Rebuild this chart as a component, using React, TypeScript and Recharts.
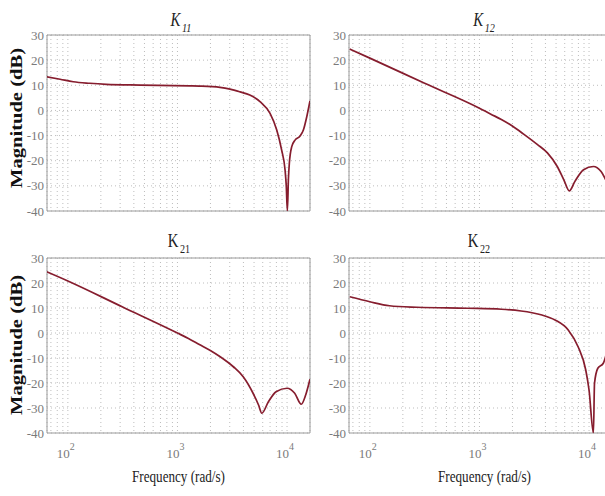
import React from "react";
import { LineChart, Line, XAxis, YAxis, CartesianGrid, ReferenceArea } from "recharts";

// frequency grid (rad/s) and magnitude ticks
const FREQ_MIN = 64.5;
const FREQ_MAX = 16200;
const FREQ_TICKS = [
  70, 80, 90, 100, 200, 300, 400, 500, 600, 700, 800, 900, 1000, 2000, 3000, 4000, 5000, 6000, 7000, 8000,
  9000, 10000,
];
const DB_TICKS = [-40, -30, -20, -10, 0, 10, 20, 30];

// K11
const k11Freq = [64, 85, 112, 158, 224, 457, 1288, 1585, 2443, 3020, 3715, 4571, 5662, 6998, 8054, 8933, 9594, 9840, 10070, 10300, 10495, 11041, 11830, 13152, 14093, 15136, 16200];
const k11Db = [13.4, 12.4, 11.4, 10.8, 10.4, 10.1, 9.8, 9.7, 9.2, 8.5, 7.4, 6.1, 3.5, -1.2, -7.8, -15.8, -23.7, -30, -40, -27, -21, -14.4, -11.8, -10.2, -7.8, -2.5, 3.8];

// K12
const k12Freq = [65.5, 100, 316, 1000, 1259, 1585, 1995, 2512, 3388, 4169, 5129, 5888, 6607, 7413, 8913, 10965, 12882, 14791, 16200];
const k12Db = [24.4, 20.8, 10.8, 0.9, -1.4, -3.6, -6.2, -9.3, -13.6, -16.9, -22.3, -27.6, -32, -28.3, -23.6, -22.3, -24.3, -28.9, -31];

// K21
const k21Freq = [64, 100, 316, 1000, 1259, 1585, 1995, 2455, 3236, 3981, 4898, 5495, 5888, 6761, 7943, 10000, 11749, 13490, 14791, 15849, 16200];
const k21Db = [24.5, 20.8, 10.4, 0, -2.2, -4.6, -7, -9.5, -13.5, -17.5, -24.1, -28.8, -32.1, -27.5, -23.5, -22.1, -24.1, -28.5, -24.8, -20.1, -18.5];

// K22
const k22Freq = [65.5, 100, 151, 269, 776, 1585, 2399, 3020, 3715, 4898, 6457, 7943, 9333, 10000, 10965, 11220, 12023, 13490, 14454, 16200];
const k22Db = [14.5, 12.5, 10.9, 10.3, 9.9, 9.5, 8.8, 8.1, 7.2, 5.2, 1.2, -5.5, -14.8, -22.8, -40, -20.1, -14.1, -12.1, -8.1, -1];

const SERIF = "'Liberation Serif', 'Times New Roman', serif";
const LINE = "#861d2e";
const GRAY_TEXT = "#7a7a7a";

function DecadeTick(props: any) {
  const { x, y, payload } = props;
  const exp = Math.round(Math.log10(payload.value));
  if (Math.abs(Math.pow(10, exp) - payload.value) > 1e-6) return <g />;
  return (
    <g fill={GRAY_TEXT} fontFamily={SERIF}>
      <text x={x + 2} y={y + 17} fontSize={13} textAnchor="end">10</text>
      <text x={x + 2} y={y + 9} fontSize={10}>{exp}</text>
    </g>
  );
}

function NoTick() {
  return <g />;
}

interface PanelProps {
  freq: number[];
  db: number[];
  left: number;
  top: number;
  plotH: number;
  showX: boolean;
}

function Panel({ freq, db, left, top, plotH, showX }: PanelProps) {
  const rows = freq.map((f, i) => ({ f, db: db[i] }));
  const xh = showX ? 35 : 14;
  return (
    <div style={{ position: "absolute", left, top }}>
      <LineChart width={320} height={35 + plotH + xh} data={rows} margin={{ top: 35, right: 10, bottom: 0, left: 0 }}>
        <CartesianGrid strokeDasharray="1 3" stroke="#bdbdbd" />
        <XAxis
          dataKey="f"
          type="number"
          scale="log"
          domain={[FREQ_MIN, FREQ_MAX]}
          allowDataOverflow
          ticks={FREQ_TICKS}
          interval={0}
          height={xh}
          tickLine={false}
          axisLine={false}
          tick={showX ? <DecadeTick /> : <NoTick />}
        />
        <YAxis
          type="number"
          domain={[-40, 30]}
          allowDataOverflow
          ticks={DB_TICKS}
          interval={0}
          width={47}
          tickLine={false}
          axisLine={false}
          tickSize={2}
          tickMargin={1}
          tick={{ fill: GRAY_TEXT, fontSize: 13, fontFamily: SERIF }}
        />
        <ReferenceArea x1={FREQ_MIN} x2={FREQ_MAX} y1={-40} y2={30} fill="none" stroke="#9a9a9a" strokeWidth={1} />
        <Line type="monotone" dataKey="db" stroke={LINE} strokeWidth={1.7} dot={false} isAnimationActive={false} />
      </LineChart>
    </div>
  );
}

function Title({ cx, y, sub, italic }: { cx: number; y: number; sub: string; italic: boolean }) {
  return (
    <g transform={`translate(${cx},${y}) scale(0.78,1)`}>
      <text textAnchor="middle" fontFamily={SERIF} fontStyle={italic ? "italic" : "normal"} fontSize={19} fill="#222">
        K<tspan fontSize={13} dy={6} dx={2}>{sub}</tspan>
      </text>
    </g>
  );
}

export default function App() {
  return (
    <div style={{ position: "absolute", left: 0, top: 0, width: 605, height: 496, overflow: "hidden", background: "#fff" }}>
      <Panel freq={k11Freq} db={k11Db} left={0} top={0} plotH={176} showX={false} />
      <Panel freq={k12Freq} db={k12Db} left={302} top={0} plotH={176} showX={false} />
      <Panel freq={k21Freq} db={k21Db} left={0} top={223} plotH={175} showX />
      <Panel freq={k22Freq} db={k22Db} left={302} top={223} plotH={175} showX />
      <svg width={605} height={496} style={{ position: "absolute", left: 0, top: 0, pointerEvents: "none" }}>
        <Title cx={181} y={26} sub="11" italic />
        <Title cx={484} y={26} sub="12" italic />
        <Title cx={179} y={247} sub="21" italic={false} />
        <Title cx={479} y={247} sub="22" italic={false} />
        {[118, 345].map((cy) => (
          <text
            key={cy}
            transform={`translate(22,${cy}) rotate(-90)`}
            textAnchor="middle"
            fontFamily={SERIF}
            fontWeight="bold"
            fontSize={16}
            textLength={140}
            lengthAdjust="spacingAndGlyphs"
            fill="#111"
          >
            Magnitude (dB)
          </text>
        ))}
        {[178, 484].map((cx) => (
          <text
            key={cx}
            x={cx - 46}
            y={482}
            fontFamily={SERIF}
            fontSize={17}
            textLength={93}
            lengthAdjust="spacingAndGlyphs"
            fill="#222"
          >
            Frequency (rad/s)
          </text>
        ))}
      </svg>
    </div>
  );
}
